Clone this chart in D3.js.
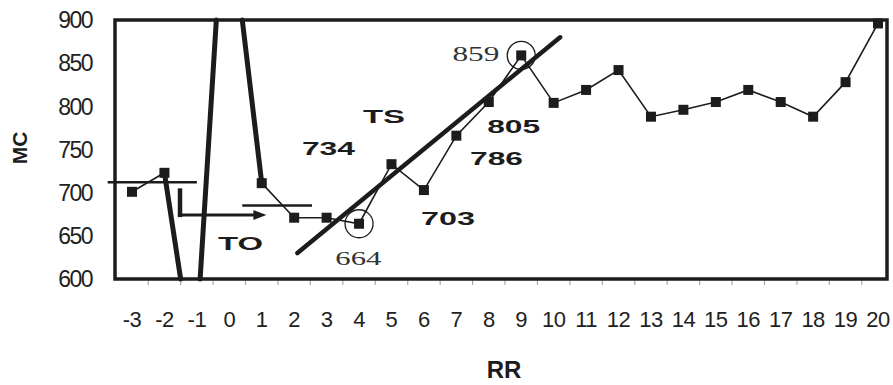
<!DOCTYPE html>
<html><head><meta charset="utf-8">
<script src="https://cdn.jsdelivr.net/npm/d3@7"></script>
<style>body{margin:0;background:#fff}svg{display:block}</style>
</head><body><svg id="c" width="893" height="385"></svg>
<script>
// categories (RR)
const categories = [-3,-2,-1,0,1,2,3,4,5,6,7,8,9,10,11,12,13,14,15,16,17,18,19,20];
// thin series with square markers (MC); null = no marker
const mcValues = [701,723,null,null,711,671,671,664,733,703,766,805,859,804,819,842,788,796,805,819,805,788,828,896];
const yTicks = [600,650,700,750,800,850,900];
// thick excursion line (RR, MC); null breaks the line where it runs off the plot
const thickX = [-2,-1.5,-1.2,-0.9,-0.4,0,0.4,1];
const thickY = [723,600,null,600,900,null,900,711];
// TS trend line
const tsX = [2.1,10.2];
const tsY = [630,880];
// TO level lines
const toLine1X = [-3.75,-1.0], toLine1Y = [712,712];
const toLine2X = [0.4,2.55], toLine2Y = [685,685];
// arrow
const arrowX = [-1.52,-1.52,1.05], arrowY = [705,674,674];
// circled points
const circledX = [4,9], circledY = [664,859];
// annotation labels
const labelText = ["734","TS","805","786","703","TO"];
const labelX = [2.24,4.12,7.95,7.42,5.91,-0.35];
const labelY = [743.6,780.7,769.1,732,662.5,633.6];
const labelW = [53,42,53,53,54,45];
const serifText = ["859","664"];
const serifX = [6.88,3.27];
const serifY = [852,616.2];
const serifW = [47,46];
const serifSize = [22,18];

const svg = d3.select("#c");
const L=115,R=887,T=20,B=279;
const x = d3.scaleLinear().domain([-3,20]).range([132,878]);
const y = d3.scaleLinear().domain([600,900]).range([B,T]);
const ink = "#1c1c1c";

// x ticks at category boundaries
const bounds = categories.slice(0,-1).map(c=>c+0.5);
svg.append("g").selectAll("line").data(bounds).join("line")
  .attr("x1",d=>x(d)).attr("x2",d=>x(d)).attr("y1",B+1).attr("y2",B+6)
  .attr("stroke","#aaa").attr("stroke-width",1.2);

// thin line
const line = d3.line().defined(d=>d[1]!=null).x(d=>x(d[0])).y(d=>y(d[1]));
const pts = categories.map((c,i)=>[c,mcValues[i]]);
svg.append("path").attr("d",line(pts)).attr("fill","none").attr("stroke",ink).attr("stroke-width",1.6);

// thick excursion
svg.append("path").attr("d",line(thickX.map((v,i)=>[v,thickY[i]])))
  .attr("fill","none").attr("stroke",ink).attr("stroke-width",5).attr("stroke-linejoin","round").attr("stroke-linecap","round");

const l2 = d3.line().x(d=>x(d[0])).y(d=>y(d[1]));
// TO lines
[[toLine1X,toLine1Y],[toLine2X,toLine2Y]].forEach(([xs,ys])=>{
  svg.append("path").attr("d",l2(xs.map((v,i)=>[v,ys[i]]))).attr("fill","none").attr("stroke",ink).attr("stroke-width",2.5);
});

// arrow
svg.append("line").attr("x1",x(arrowX[0])).attr("x2",x(arrowX[1])).attr("y1",y(arrowY[0])).attr("y2",y(arrowY[1])+2)
  .attr("stroke",ink).attr("stroke-width",4.5);
svg.append("line").attr("x1",x(arrowX[1])-2).attr("x2",x(arrowX[2])-6).attr("y1",y(arrowY[1])).attr("y2",y(arrowY[2]))
  .attr("stroke",ink).attr("stroke-width",3);
const ax = x(arrowX[2]), ay = y(arrowY[2]);
svg.append("path").attr("d",`M${ax+3},${ay} L${ax-10},${ay-5} L${ax-10},${ay+5} Z`).attr("fill",ink);

// markers
svg.append("g").selectAll("rect").data(pts.filter(d=>d[1]!=null)).join("rect")
  .attr("x",d=>x(d[0])-5).attr("y",d=>y(d[1])-5).attr("width",10).attr("height",10).attr("fill",ink);

// TS trend line
svg.append("path").attr("d",l2(tsX.map((v,i)=>[v,tsY[i]]))).attr("fill","none").attr("stroke",ink).attr("stroke-width",4.5).attr("stroke-linecap","round");

// circles
svg.append("g").selectAll("circle").data(circledX.map((v,i)=>[v,circledY[i]])).join("circle")
  .attr("cx",d=>x(d[0])).attr("cy",d=>y(d[1])).attr("r",14).attr("fill","none").attr("stroke",ink).attr("stroke-width",1.3);

// frame
svg.append("rect").attr("x",L).attr("y",T).attr("width",R-L).attr("height",B-T)
  .attr("fill","none").attr("stroke",ink).attr("stroke-width",3.5);

// y tick labels
svg.append("g").selectAll("text").data(yTicks).join("text")
  .attr("x",92).attr("y",d=>y(d)).attr("dy","0.36em").attr("text-anchor","end")
  .attr("font-family","Liberation Sans, Arial, sans-serif").attr("font-size",23).attr("letter-spacing",-1.5)
  .attr("fill","#222").text(d=>d);

// x tick labels
svg.append("g").selectAll("text").data(categories).join("text")
  .attr("x",d=>x(d)).attr("y",327).attr("text-anchor","middle")
  .attr("font-family","Liberation Sans, Arial, sans-serif").attr("font-size",22).attr("letter-spacing",-0.5)
  .attr("fill","#222").text(d=>d);

// bold labels
labelText.forEach((t,i)=>{
  svg.append("text").attr("x",x(labelX[i])).attr("y",y(labelY[i]))
    .attr("font-family","Liberation Sans, Arial, sans-serif").attr("font-weight","bold").attr("font-size",18)
    .attr("textLength",labelW[i]).attr("lengthAdjust","spacingAndGlyphs").attr("fill",ink).text(t);
});
serifText.forEach((t,i)=>{
  svg.append("text").attr("x",x(serifX[i])).attr("y",y(serifY[i]))
    .attr("font-family","Liberation Serif, Times New Roman, serif").attr("font-size",serifSize[i])
    .attr("textLength",serifW[i]).attr("lengthAdjust","spacingAndGlyphs").attr("fill","#333").text(t);
});

// axis titles
svg.append("text").attr("transform","translate(27,148) rotate(-90)").attr("text-anchor","middle")
  .attr("font-family","Liberation Sans, Arial, sans-serif").attr("font-weight","bold").attr("font-size",21).attr("fill",ink).text("MC");
svg.append("text").attr("x",504).attr("y",378).attr("text-anchor","middle")
  .attr("font-family","Liberation Sans, Arial, sans-serif").attr("font-weight","bold").attr("font-size",24).attr("fill",ink).text("RR");
</script></body></html>
